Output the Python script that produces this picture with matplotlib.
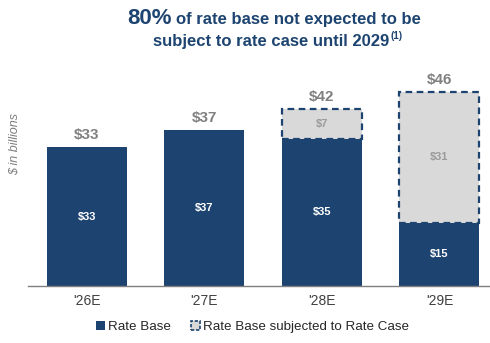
import numpy as np
import matplotlib.pyplot as plt
from matplotlib.patches import Patch

years = ["'26E", "'27E", "'28E", "'29E"]
rate_base = [33, 37, 35, 15]
rate_case = [0, 0, 7, 31]
totals = [33, 37, 42, 46]

NAVY = '#1d4470'
LIGHT = '#d9d9d9'
GREY_TXT = '#808080'

plt.rcParams['font.family'] = ['Liberation Sans', 'DejaVu Sans']

fig = plt.figure(figsize=(4.9, 3.43), dpi=100)
ax = fig.add_axes([0.057, 0.166, 0.943, 0.66])

x = np.arange(len(years))
w = 0.68
ax.bar(x, rate_base, width=w, color=NAVY, edgecolor='none', zorder=2)
case_idx = [i for i, v in enumerate(rate_case) if v > 0]
ax.bar(x[case_idx], [rate_case[i] for i in case_idx], width=w,
       bottom=[rate_base[i] for i in case_idx], color=LIGHT,
       edgecolor=NAVY, linestyle=(0, (3, 2)), linewidth=1.6, zorder=3)

for i in range(len(years)):
    ax.text(x[i], rate_base[i] / 2, f'${rate_base[i]}', ha='center', va='center',
            color='white', fontsize=8, fontweight='bold', zorder=4)
    if rate_case[i]:
        ax.text(x[i], rate_base[i] + rate_case[i] / 2, f'${rate_case[i]}',
                ha='center', va='center', color='#9a9a9a', fontsize=8,
                fontweight='bold', zorder=4)
    ax.text(x[i], totals[i] + 1.2, f'${totals[i]}', ha='center', va='bottom',
            color=GREY_TXT, fontsize=11, fontweight='bold')

ax.set_xlim(-0.5, 3.43)
ax.set_ylim(0, 53.7)
for s in ['top', 'right', 'left']:
    ax.spines[s].set_visible(False)
ax.spines['bottom'].set_color('#7f7f7f')
ax.spines['bottom'].set_linewidth(1)
ax.set_yticks([])
ax.set_xticks(x)
ax.set_xticklabels(years, fontsize=10, color='#404040')
ax.tick_params(axis='x', length=0, pad=6)

fig.text(0.031, 0.58, '$ in billions', rotation=90, ha='center', va='center',
         fontsize=9, style='italic', color='#7f7f7f')

# title: big "80%" followed directly by the rest of the first line
renderer = fig.canvas.get_renderer()
inv = fig.transFigure.inverted()
lead = fig.text(0.259, 0.947, '80%', fontsize=16, fontweight='bold', color=NAVY,
                ha='left', va='center')
lead_end = inv.transform(lead.get_window_extent(renderer))[1][0]
fig.text(lead_end + 0.01, 0.943, 'of rate base not expected to be', fontsize=12,
         fontweight='bold', color=NAVY, ha='left', va='center')
line2 = fig.text(0.312, 0.878, 'subject to rate case until 2029', fontsize=12,
                 fontweight='bold', color=NAVY, ha='left', va='center')
line2_end = inv.transform(line2.get_window_extent(renderer))[1][0]
fig.text(line2_end + 0.002, 0.895, '(1)', fontsize=7, fontweight='bold',
         color=NAVY, ha='left', va='center')

handles = [Patch(facecolor=NAVY, edgecolor='none'),
           Patch(facecolor=LIGHT, edgecolor=NAVY, linestyle=(0, (2, 1)), linewidth=1.2)]
fig.legend(handles, ['Rate Base', 'Rate Base subjected to Rate Case'],
           loc='center', bbox_to_anchor=(0.515, 0.046), ncol=2, frameon=False,
           fontsize=9.6, handlelength=0.7, handleheight=0.7, handletextpad=0.2,
           columnspacing=1.5, labelcolor='#262626')

fig.savefig('out.png', dpi=100)
